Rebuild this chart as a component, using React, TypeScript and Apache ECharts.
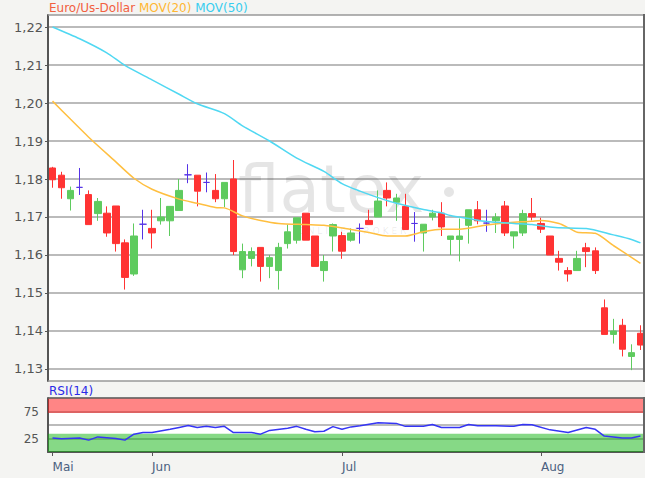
import React, { useEffect, useRef } from 'react';
import * as echarts from 'echarts';

// ---- data (EUR/USD daily, 2018) ----
const dates = [
  '2018-05-17','2018-05-18','2018-05-21','2018-05-22','2018-05-23','2018-05-24','2018-05-25','2018-05-28','2018-05-29','2018-05-30','2018-05-31',
  '2018-06-01','2018-06-04','2018-06-05','2018-06-06','2018-06-07','2018-06-08','2018-06-11','2018-06-12','2018-06-13','2018-06-14','2018-06-15',
  '2018-06-18','2018-06-19','2018-06-20','2018-06-21','2018-06-22','2018-06-25','2018-06-26','2018-06-27','2018-06-28','2018-06-29',
  '2018-07-02','2018-07-03','2018-07-04','2018-07-05','2018-07-06','2018-07-09','2018-07-10','2018-07-11','2018-07-12','2018-07-13',
  '2018-07-16','2018-07-17','2018-07-18','2018-07-19','2018-07-20','2018-07-23','2018-07-24','2018-07-25','2018-07-26','2018-07-27',
  '2018-07-30','2018-07-31',
  '2018-08-01','2018-08-02','2018-08-03','2018-08-06','2018-08-07','2018-08-08','2018-08-09','2018-08-10','2018-08-13','2018-08-14',
  '2018-08-15','2018-08-16',
];

const opens = [
  1.1829,1.1810,1.1748,1.1778,1.1759,1.1709,1.1710,1.1729,1.1632,1.1550,
  1.1681,1.1670,1.1690,1.1690,1.1717,1.1811,1.1810,1.1791,1.1770,1.1748,
  1.1800,1.1561,1.1591,1.1620,1.1570,1.1559,1.1630,1.1639,1.1710,1.1650,
  1.1559,1.1650,1.1651,1.1639,1.1670,1.1691,1.1700,1.1770,1.1739,1.1728,
  1.1683,1.1658,1.1700,1.1710,1.1641,1.1641,1.1678,1.1719,1.1684,1.1690,
  1.1729,1.1650,1.1658,1.1709,1.1683,1.1650,1.1591,1.1559,1.1559,1.1619,
  1.1611,1.1461,1.1391,1.1415,1.1333,1.1394,
];
const closes = [
  1.1798,1.1777,1.1770,1.1778,1.1680,1.1741,1.1658,1.1630,1.1541,1.1650,
  1.1681,1.1658,1.1700,1.1728,1.1770,1.1811,1.1768,1.1791,1.1748,1.1791,
  1.1609,1.1609,1.1609,1.1570,1.1593,1.1620,1.1661,1.1698,1.1639,1.1570,
  1.1583,1.1680,1.1610,1.1658,1.1670,1.1680,1.1742,1.1750,1.1750,1.1667,
  1.1683,1.1681,1.1710,1.1674,1.1650,1.1650,1.1719,1.1690,1.1684,1.1700,
  1.1658,1.1661,1.1709,1.1700,1.1668,1.1600,1.1581,1.1550,1.1591,1.1609,
  1.1559,1.1391,1.1400,1.1352,1.1343,1.1363,
];
const lows = [
  1.1777,1.1748,1.1717,1.1758,1.1680,1.1690,1.1648,1.1609,1.1509,1.1545,
  1.1641,1.1617,1.1680,1.1650,1.1717,1.1789,1.1728,1.1765,1.1739,1.1726,
  1.1600,1.1539,1.1570,1.1530,1.1539,1.1509,1.1617,1.1630,1.1639,1.1570,
  1.1530,1.1609,1.1590,1.1635,1.1630,1.1680,1.1700,1.1728,1.1690,1.1667,
  1.1635,1.1609,1.1691,1.1650,1.1600,1.1583,1.1630,1.1681,1.1661,1.1658,
  1.1650,1.1617,1.1650,1.1691,1.1658,1.1600,1.1559,1.1530,1.1559,1.1568,
  1.1550,1.1391,1.1367,1.1333,1.1297,1.1350,
];
const highs = [
  1.1832,1.1819,1.1780,1.1829,1.1770,1.1750,1.1728,1.1729,1.1641,1.1683,
  1.1719,1.1719,1.1750,1.1728,1.1800,1.1839,1.1810,1.1817,1.1813,1.1791,
  1.1850,1.1630,1.1620,1.1620,1.1600,1.1632,1.1680,1.1698,1.1710,1.1650,
  1.1600,1.1683,1.1661,1.1670,1.1683,1.1719,1.1770,1.1791,1.1761,1.1761,
  1.1713,1.1681,1.1719,1.1739,1.1650,1.1696,1.1719,1.1742,1.1719,1.1710,
  1.1742,1.1661,1.1719,1.1750,1.1698,1.1650,1.1611,1.1568,1.1611,1.1632,
  1.1620,1.1483,1.1432,1.1432,1.1365,1.1415,
];

const mov20Idx = [0,2,4,7,9,11,14,16,18,19,21,23,25,28,30,33,35,37,39,41,43,45,48,50,53,54,56,57,58,60,62,64,65];
const mov20Val = [1.2005,1.1957,1.1910,1.1845,1.1802,1.1773,1.1747,1.1736,1.1725,1.1724,1.1703,1.1691,1.1683,1.1680,1.1678,1.1667,1.1659,1.1650,1.1650,1.1661,1.1668,1.1668,1.1679,1.1684,1.1689,1.1691,1.1683,1.1672,1.1660,1.1657,1.1625,1.1594,1.1578];

const mov50Idx = [0,3,6,8,11,14,16,19,21,24,27,30,32,34,36,38,41,43,44,46,48,51,53,55,57,59,62,64,65];
const mov50Val = [1.2200,1.2169,1.2132,1.2099,1.2061,1.2023,1.1998,1.1972,1.1940,1.1900,1.1855,1.1820,1.1788,1.1768,1.1751,1.1736,1.1720,1.1711,1.1704,1.1696,1.1688,1.1683,1.1680,1.1674,1.1671,1.1670,1.1653,1.1641,1.1632];

const rsiIdx = [0,1,3,4,5,7,8,9,10,11,13,14,15,16,17,18,19,20,22,23,24,26,27,28,29,30,31,32,33,34,36,38,39,41,42,43,45,46,47,49,51,52,53,55,57,59,60,61,63,64,65];
const rsiVal = [26,24.5,26,22,28,25,22,33,36,36,42,45.5,49,45.5,47.5,45.5,47.5,36,36,33,40,44,47.5,42,37.5,38.5,47,42,46.5,48.5,54,53,47.5,47.5,51,45.5,45.5,51,48.5,48.5,47.5,51,50.5,41,36,45.5,42,29.5,26,26,29.5];

const priceTicks = [1.13, 1.14, 1.15, 1.16, 1.17, 1.18, 1.19, 1.20, 1.21, 1.22];
const priceMin = 1.12684;
const priceMax = 1.22316;
const rsiLabelTicks = [25, 75];
const rsiOverbought = 72;
const rsiOversold = 34;

const monthTickDates = ['2018-05-17', '2018-06-01', '2018-07-02', '2018-08-01'];
const monthTickLabels = ['Mai', 'Jun', 'Jul', 'Aug'];

// ---- styling ----
const BG = '#f4f4f2';
const RED = '#ff3333';
const GREEN = '#5fcb5f';
const BLUE = '#5533e6';
const ORANGE = '#ffbf40';
const CYAN = '#50d8f2';
const FONT = 'DejaVu Sans';

function buildOption() {
  const candles = dates.map((_, i) => {
    const v = [opens[i], closes[i], lows[i], highs[i]];
    if (opens[i] === closes[i]) {
      return {
        value: v,
        itemStyle: { color: BLUE, color0: BLUE, borderColor: BLUE, borderColor0: BLUE },
      };
    }
    return { value: v };
  });
  const monthIdx = monthTickDates.map((d) => dates.indexOf(d));
  const showMonth = (index: number) => monthIdx.indexOf(index) >= 0;

  const L = 48;
  const W = 598;
  const RIGHT = 644;

  return {
    animation: false,
    backgroundColor: BG,
    textStyle: { fontFamily: FONT },
    grid: [
      { left: L, top: 15, width: W, height: 366, show: true, backgroundColor: '#fff', borderWidth: 0 },
      { left: L, top: 398, width: W, height: 54, show: true, backgroundColor: '#fff', borderWidth: 0 },
    ],
    xAxis: [
      {
        type: 'category', gridIndex: 0, data: dates, boundaryGap: true,
        axisLine: { show: false }, axisTick: { show: false }, axisLabel: { show: false }, splitLine: { show: false },
      },
      {
        type: 'category', gridIndex: 1, data: dates, boundaryGap: true,
        axisLine: { show: true, lineStyle: { color: '#555', width: 2 } },
        axisTick: { show: true, alignWithLabel: true, interval: (i: number) => showMonth(i), length: 4, lineStyle: { color: '#555' } },
        axisLabel: {
          show: true, interval: (i: number) => showMonth(i), align: 'left', margin: 9,
          color: '#4a6080', fontSize: 12, fontFamily: FONT,
          formatter: (val: string) => {
            const k = monthTickDates.indexOf(val);
            return k >= 0 ? monthTickLabels[k] : '';
          },
        },
        splitLine: { show: false },
      },
    ],
    yAxis: [
      {
        type: 'value', gridIndex: 0, min: priceMin, max: priceMax, scale: true,
        axisLine: { show: true, lineStyle: { color: '#555', width: 2 } },
        axisTick: { show: true, customValues: priceTicks, length: 3, lineStyle: { color: '#555' } },
        axisLabel: {
          show: true, customValues: priceTicks, margin: 5, color: '#555', fontSize: 13, fontFamily: FONT,
          formatter: (v: number) => v.toFixed(2).replace('.', ','),
        },
        splitLine: { show: true, lineStyle: { color: '#a4a4a4', width: 1.5 } },
      },
      {
        type: 'value', gridIndex: 1, min: 0, max: 100, interval: 25,
        axisLine: { show: true, lineStyle: { color: '#555', width: 2 } },
        axisTick: { show: false },
        axisLabel: {
          show: true, margin: 9, color: '#555', fontSize: 12, fontFamily: FONT,
          formatter: (v: number) => (rsiLabelTicks.indexOf(v) >= 0 ? String(v) : ''),
        },
        splitLine: { show: true, lineStyle: { color: '#a4a4a4', width: 1.5 } },
      },
    ],
    series: [
      {
        type: 'candlestick', name: 'Euro/Us-Dollar', xAxisIndex: 0, yAxisIndex: 0,
        barWidth: 7, data: candles, z: 2,
        itemStyle: { color: GREEN, color0: RED, borderColor: GREEN, borderColor0: RED, borderWidth: 1 },
      },
      {
        type: 'line', name: 'MOV(20)', xAxisIndex: 0, yAxisIndex: 0, z: 3,
        data: mov20Idx.map((x, i) => [x, mov20Val[i]]),
        symbol: 'none', smooth: 0.25, lineStyle: { color: ORANGE, width: 1.5 },
      },
      {
        type: 'line', name: 'MOV(50)', xAxisIndex: 0, yAxisIndex: 0, z: 3,
        data: mov50Idx.map((x, i) => [x, mov50Val[i]]),
        symbol: 'none', smooth: 0.25, lineStyle: { color: CYAN, width: 1.5 },
      },
      {
        type: 'line', name: 'RSI(14)', xAxisIndex: 1, yAxisIndex: 1, z: 3,
        data: rsiIdx.map((x, i) => [x, rsiVal[i]]),
        symbol: 'none', lineStyle: { color: '#3535f5', width: 1.5 },
        markArea: {
          silent: true,
          data: [
            [{ yAxis: rsiOverbought, itemStyle: { color: 'rgba(255,11,11,0.5)' } }, { yAxis: 100 }],
            [{ yAxis: 0, itemStyle: { color: 'rgba(13,179,13,0.5)' } }, { yAxis: rsiOversold }],
          ],
        },
      },
    ],
    graphic: [
      {
        type: 'text', x: 238, y: 189, z: 1, silent: true,
        style: {
          text: 'flatex', fontFamily: FONT, fontWeight: 'normal', fontSize: 66,
          fill: 'rgba(0,0,0,0.1)', verticalAlign: 'middle',
        },
      },
      { type: 'circle', shape: { cx: 449, cy: 192, r: 5 }, z: 1, silent: true, style: { fill: 'rgba(0,0,0,0.1)' } },
      {
        type: 'text', x: 352, y: 231, z: 1, silent: true,
        style: { text: 'O N L I N E   B R O K E R', fontFamily: FONT, fontSize: 9, fill: 'rgba(0,0,0,0.09)', align: 'center', verticalAlign: 'middle' },
      },
      {
        type: 'text', x: 49, y: 8, z: 50,
        style: {
          text: '{a|Euro/Us-Dollar} {b|MOV(20)} {c|MOV(50)}',
          fontFamily: FONT, fontSize: 12, verticalAlign: 'middle',
          rich: {
            a: { fill: '#f2603f', fontFamily: FONT, fontSize: 12 },
            b: { fill: '#ffb732', fontFamily: FONT, fontSize: 12 },
            c: { fill: '#38cdef', fontFamily: FONT, fontSize: 12 },
          },
        },
      },
      {
        type: 'text', x: 49, y: 391, z: 50,
        style: { text: 'RSI(14)', fontFamily: FONT, fontSize: 12, fill: '#2a2ae8', verticalAlign: 'middle' },
      },
      // frames
      { type: 'line', z: 100, shape: { x1: L, y1: 15, x2: RIGHT, y2: 15 }, style: { stroke: '#999', lineWidth: 1.5 } },
      { type: 'line', z: 100, shape: { x1: L, y1: 381, x2: RIGHT, y2: 381 }, style: { stroke: '#999', lineWidth: 1.5 } },
      { type: 'line', z: 100, shape: { x1: RIGHT, y1: 14, x2: RIGHT, y2: 382 }, style: { stroke: '#666', lineWidth: 2 } },
      { type: 'line', z: 100, shape: { x1: L, y1: 398, x2: RIGHT, y2: 398 }, style: { stroke: '#666', lineWidth: 1.5 } },
      { type: 'line', z: 100, shape: { x1: RIGHT, y1: 397, x2: RIGHT, y2: 453 }, style: { stroke: '#666', lineWidth: 2 } },
    ],
  };
}

export default function App() {
  const ref = useRef<HTMLDivElement>(null);
  useEffect(() => {
    if (!ref.current) return;
    const chart = echarts.init(ref.current, null, { renderer: 'svg' });
    chart.setOption(buildOption() as any);
    return () => chart.dispose();
  }, []);
  return <div ref={ref} style={{ position: 'fixed', left: 0, top: 0, width: 645, height: 478 }} />;
}
